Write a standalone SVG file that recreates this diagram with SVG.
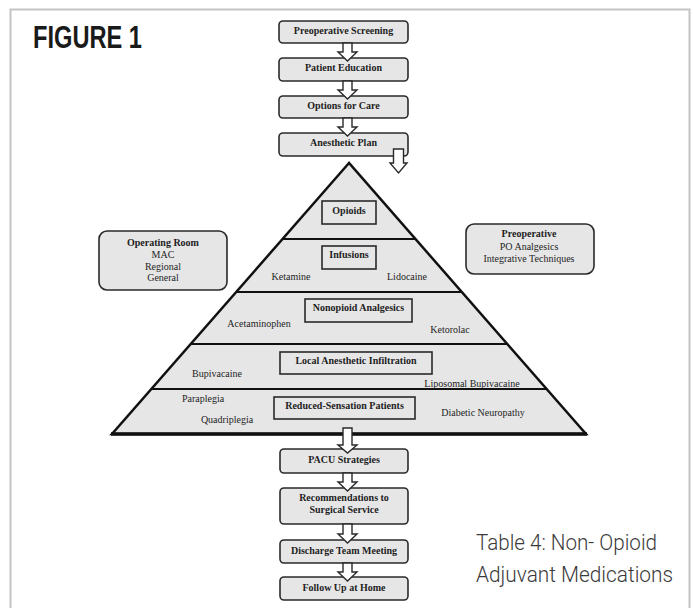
<svg xmlns="http://www.w3.org/2000/svg" width="694" height="608" viewBox="0 0 694 608">
<style>
.bx{fill:#e6e6e6;stroke:#2a2a2a;stroke-width:1.6}
.ib{fill:#e6e6e6;stroke:#2a2a2a;stroke-width:1.6}
.bt{font-family:"Liberation Serif","Times New Roman",serif;font-weight:bold;font-size:10px;fill:#1e1e1e;text-anchor:middle}
.rt{font-family:"Liberation Serif","Times New Roman",serif;font-size:10px;fill:#1e1e1e;text-anchor:middle}
.ar{fill:#ffffff;stroke:#2a2a2a;stroke-width:1.4;stroke-linejoin:miter}
.dv{stroke:#111;stroke-width:2;fill:none}
.fr{stroke:#c4c4c4;stroke-width:2;fill:none}
</style>
<rect width="694" height="608" fill="#ffffff"/>
<path class="fr" d="M10.5 608 V9.5 H689.5 V608"/>
<text x="33" y="48" font-family="Liberation Sans Narrow,Liberation Sans,Arial,sans-serif" font-weight="bold" font-size="31" fill="#1a1a1a" textLength="109" lengthAdjust="spacingAndGlyphs">FIGURE 1</text>

<g id="pyramid">
<polygon points="349,163 112,434 586,434" fill="#e6e6e6" stroke="#111" stroke-width="2.5" stroke-linejoin="miter"/>
<line class="dv" x1="282.5" y1="239" x2="415.5" y2="239"/>
<line class="dv" x1="236.2" y1="292" x2="461.8" y2="292"/>
<line class="dv" x1="190.7" y1="344" x2="507.3" y2="344"/>
<line class="dv" x1="151.4" y1="389" x2="546.6" y2="389"/>
<line x1="111" y1="434" x2="587" y2="434" stroke="#111" stroke-width="3.5"/>
</g>

<g id="opioids"><rect class="ib" x="322" y="201" width="54" height="23"/><text class="bt" x="349" y="213.5">Opioids</text></g>
<g id="infusions"><rect class="ib" x="322" y="246" width="54" height="23"/><text class="bt" x="349" y="258">Infusions</text>
<text class="rt" x="291" y="280">Ketamine</text><text class="rt" x="407" y="280">Lidocaine</text></g>
<g id="nonopioid"><rect class="ib" x="305" y="299" width="107" height="23"/><text class="bt" x="358.5" y="311">Nonopioid Analgesics</text>
<text class="rt" x="259" y="327">Acetaminophen</text><text class="rt" x="450" y="333">Ketorolac</text></g>
<g id="local"><rect class="ib" x="280" y="352" width="152" height="22"/><text class="bt" x="356" y="363.5">Local Anesthetic Infiltration</text>
<text class="rt" x="217" y="377">Bupivacaine</text><text class="rt" x="472" y="387">Liposomal Bupivacaine</text></g>
<g id="reduced"><rect class="ib" x="274" y="397" width="141" height="22"/><text class="bt" x="344.5" y="408.5">Reduced-Sensation Patients</text>
<text class="rt" x="203" y="402">Paraplegia</text><text class="rt" x="227" y="423">Quadriplegia</text><text class="rt" x="483" y="416">Diabetic Neuropathy</text></g>

<g id="screening"><rect class="bx" x="279" y="21" width="129" height="22" rx="4"/><text class="bt" x="343.5" y="33.5">Preoperative Screening</text></g>
<g id="education"><rect class="bx" x="279" y="58" width="129" height="23" rx="4"/><text class="bt" x="343.5" y="71">Patient Education</text></g>
<g id="options"><rect class="bx" x="279" y="96" width="129" height="22" rx="4"/><text class="bt" x="343.5" y="109">Options for Care</text></g>
<g id="plan"><rect class="bx" x="279" y="133" width="129" height="23" rx="4"/><text class="bt" x="343.5" y="146">Anesthetic Plan</text></g>

<g id="operating-room"><rect class="bx" x="99" y="231" width="128" height="59" rx="8"/>
<text class="bt" x="163" y="246">Operating Room</text>
<text class="rt" x="163" y="258">MAC</text><text class="rt" x="163" y="270">Regional</text><text class="rt" x="163" y="281">General</text></g>
<g id="preoperative"><rect class="bx" x="466" y="224" width="128" height="50" rx="8"/>
<text class="bt" x="529" y="237">Preoperative</text>
<text class="rt" x="529" y="250">PO Analgesics</text><text class="rt" x="529" y="262">Integrative Techniques</text></g>

<g id="pacu"><rect class="bx" x="280" y="449" width="128" height="24" rx="4"/><text class="bt" x="344" y="463">PACU Strategies</text></g>
<g id="recommendations"><rect class="bx" x="280" y="488" width="128" height="36" rx="4"/><text class="bt" x="344" y="501">Recommendations to</text><text class="bt" x="344" y="513">Surgical Service</text></g>
<g id="discharge"><rect class="bx" x="280" y="540" width="128" height="23" rx="4"/><text class="bt" x="344" y="553.5">Discharge Team Meeting</text></g>
<g id="followup"><rect class="bx" x="280" y="577" width="128" height="23" rx="4"/><text class="bt" x="344" y="591">Follow Up at Home</text></g>

<g id="connectors">
<path class="ar" d="M343 43 V52 H338 L347.5 61 L357 52 H352 V43 Z"/>
<path class="ar" d="M343 81 V90 H338 L347.5 99 L357 90 H352 V81 Z"/>
<path class="ar" d="M343 118 V127 H338 L347.5 136 L357 127 H352 V118 Z"/>
<path class="ar" d="M393.5 149 V163 H390 L398.5 173 L407 163 H403.5 V149 Z"/>
<path class="ar" d="M343 428 V445 H338 L347.5 453 L357 445 H352 V428 Z"/>
<path class="ar" d="M343 473 V482 H338 L347.5 491 L357 482 H352 V473 Z"/>
<path class="ar" d="M343 524 V534 H338 L347.5 543 L357 534 H352 V524 Z"/>
<path class="ar" d="M343 563 V572 H338 L347.5 581 L357 572 H352 V563 Z"/>
</g>

<g id="caption" font-family="Liberation Sans Narrow,Roboto,Liberation Sans,sans-serif" font-size="22" font-weight="300" fill="#3a3a3a">
<text x="476" y="550" textLength="181" lengthAdjust="spacingAndGlyphs">Table 4: Non- Opioid</text>
<text x="476" y="582" textLength="197" lengthAdjust="spacingAndGlyphs">Adjuvant Medications</text>
</g>
</svg>
